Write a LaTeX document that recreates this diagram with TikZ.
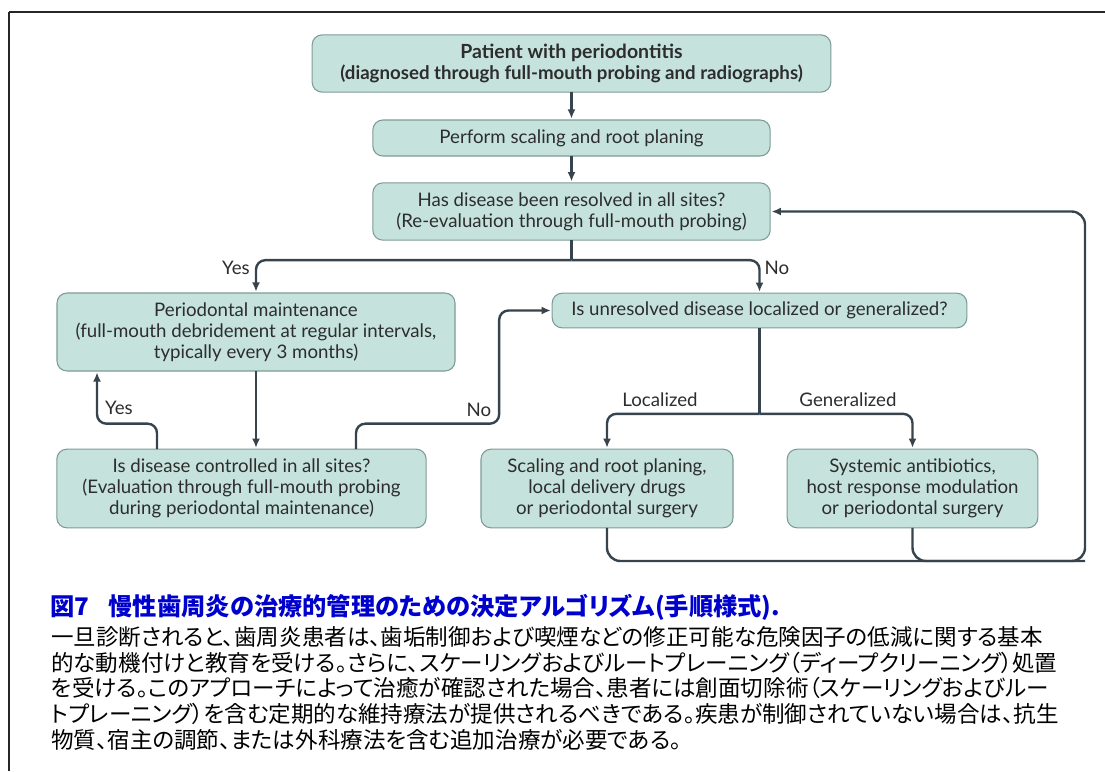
\documentclass[tikz,border=0pt]{standalone}
\usepackage{fontspec}
\setmainfont{Lato}
\newfontfamily\cjk[RawFeature=+palt]{Noto Sans CJK JP}
\usetikzlibrary{arrows.meta, positioning, calc}
\definecolor{boxfill}{RGB}{197, 227, 220}
\definecolor{boxline}{RGB}{125, 155, 150}
\definecolor{flowline}{RGB}{55, 68, 78}
\definecolor{boxtext}{RGB}{45, 45, 45}
\definecolor{capblue}{RGB}{0, 0, 205}

\tikzset{
  stepbox/.style={draw=boxline, fill=boxfill, rounded corners=7.5pt, line width=0.8pt,
    align=center, inner sep=2pt, outer sep=0pt, text=boxtext,
    font=\fontsize{14}{15.75}\selectfont},
  flow/.style={draw=flowline, line width=1.8pt, rounded corners=7pt},
  arr/.style={flow, -{Latex[length=7pt, width=6pt]}, shorten >=1pt},
  lbl/.style={text=boxtext, font=\fontsize{14}{15}\selectfont, inner sep=0pt}
}

\begin{document}
\begin{tikzpicture}[x=0.75pt, y=-0.75pt]
  \useasboundingbox (0,0) rectangle (1105,771);
  % frame
  \draw[line width=1.6pt, black!85] (9,12) -- (1105,12);
  \draw[line width=1.6pt, black!85] (9,12) -- (9,771);

  % boxes
  \node[stepbox, minimum width=389pt, minimum height=43pt] (patient) at (571.5,63.5)
    {\fontsize{14.6}{15.75}\selectfont\textbf{Patient with periodontitis}\\\textbf{(diagnosed through full-mouth probing and radiographs)}};
  \node[stepbox, minimum width=298pt, minimum height=27pt] (srp) at (571.5,138)
    {Perform scaling and root planing};
  \node[stepbox, minimum width=298pt, minimum height=43pt] (resolved) at (571.5,211.5)
    {Has disease been resolved in all sites?\\(Re-evaluation through full-mouth probing)};
  \node[stepbox, minimum width=298.5pt, minimum height=58.5pt] (maint) at (256,332)
    {Periodontal maintenance\\(full-mouth debridement at regular intervals,\\typically every 3 months)};
  \node[stepbox, minimum width=311pt, minimum height=26pt] (unresolved) at (759.5,310.5)
    {Is unresolved disease localized or generalized?};
  \node[stepbox, minimum width=277pt, minimum height=59pt] (controlled) at (241.5,488.5)
    {Is disease controlled in all sites?\\(Evaluation through full-mouth probing\\during periodontal maintenance)};
  \node[stepbox, minimum width=189pt, minimum height=59pt] (local) at (607,488.5)
    {Scaling and root planing,\\local delivery drugs\\or periodontal surgery};
  \node[stepbox, minimum width=188pt, minimum height=59pt] (systemic) at (912.5,488.5)
    {Systemic antibiotics,\\host response modulation\\or periodontal surgery};

  % connectors
  \draw[arr] (patient) -- (srp);
  \draw[arr] (srp) -- (resolved);
  \coordinate (split1) at ($(resolved.south)+(0,20)$);
  \draw[flow] (resolved.south) -- (split1);
  \draw[arr] (split1) -| (maint.north);
  \draw[arr] (split1) -| (unresolved.north);
  \draw[arr] (maint.south) -- (maint.south |- controlled.north);
  \draw[arr] ($(controlled.north)+(-84.5,0)$) -- ++(0,-25.5) -| ($(maint.south)+(-159,0)$);
  \draw[arr] ($(controlled.north)+(114.5,0)$) -- ++(0,-25.5) -| ($(unresolved.west)+(-53,0)$) -- (unresolved.west);
  \coordinate (split2) at ($(unresolved.south)+(0,86)$);
  \draw[flow] (unresolved.south) -- (split2);
  \draw[arr] (split2) -| (local.north);
  \draw[arr] (split2) -| (systemic.north);
  \coordinate (loopR) at (1085,561);
  \draw[arr, rounded corners=10pt] (local.south) |- (loopR) |- (resolved.east);
  \draw[flow, rounded corners=10pt] (systemic.south) |- (loopR);

  % labels
  \node[lbl] (yes1) at (236,268) {Yes};
  \node[lbl] (no1) at (777,268) {No};
  \node[lbl] (yes2) at (119,408) {Yes};
  \node[lbl] (no2) at (479,410) {No};
  \node[lbl] (localized) at (660,400) {Localized};
  \node[lbl] (generalized) at (848,400) {Generalized};

  % caption
  \node[anchor=west, inner sep=0pt, text=capblue, font=\cjk\bfseries\fontsize{18.2}{20}\selectfont] (captitle) at (50,607)
    {図7\hspace{0.8em}慢性歯周炎の治療的管理のための決定アルゴリズム(手順様式).};
  \node[anchor=north west, inner sep=0pt, align=left, font=\cjk\fontsize{16.9}{19.4}\selectfont] (capbody) at (51,626)
    {一旦診断されると、歯周炎患者は、歯垢制御および喫煙などの修正可能な危険因子の低減に関する基本\\
     的な動機付けと教育を受ける。さらに、スケーリングおよびルートプレーニング（ディープクリーニング）処置\\
     を受ける。このアプローチによって治癒が確認された場合、患者には創面切除術（スケーリングおよびルー\\
     トプレーニング）を含む定期的な維持療法が提供されるべきである。疾患が制御されていない場合は、抗生\\
     物質、宿主の調節、または外科療法を含む追加治療が必要である。};
\end{tikzpicture}
\end{document}
